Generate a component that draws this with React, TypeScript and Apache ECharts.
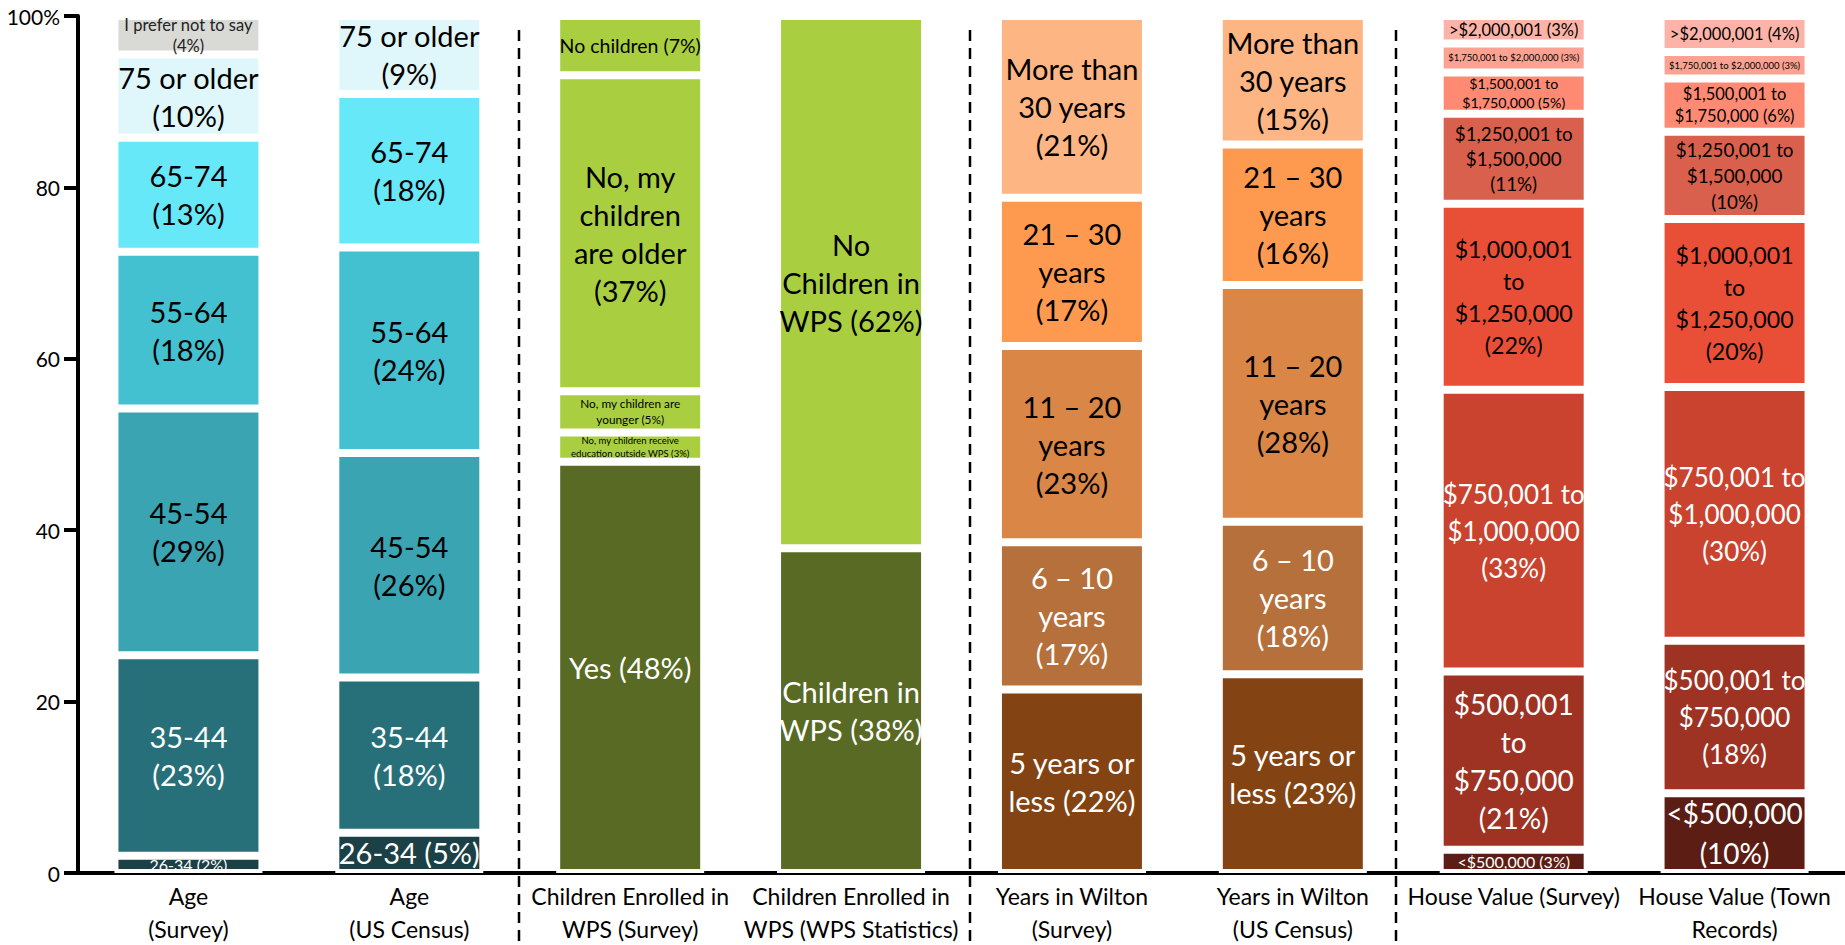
import React, { useEffect, useRef } from "react";
import * as echarts from "echarts";

// ---------- data ----------
const categories = [
  "Age\n(Survey)",
  "Age\n(US Census)",
  "Children Enrolled in\nWPS (Survey)",
  "Children Enrolled in\nWPS (WPS Statistics)",
  "Years in Wilton\n(Survey)",
  "Years in Wilton\n(US Census)",
  "House Value (Survey)",
  "House Value (Town\nRecords)",
];

const yTicks = [0, 20, 40, 60, 80, 100];

// segments listed bottom -> top
const ageSurveyValues = [2.0, 23.4, 28.8, 18.3, 13.3, 9.7, 4.5];
const ageSurveyLabels = [
  "26-34 (2%)",
  "35-44\n(23%)",
  "45-54\n(29%)",
  "55-64\n(18%)",
  "65-74\n(13%)",
  "75 or older\n(10%)",
  "I prefer not to say\n(4%)",
];

const ageCensusValues = [4.7, 18.1, 26.2, 24.0, 17.9, 9.1];
const ageCensusLabels = [
  "26-34 (5%)",
  "35-44\n(18%)",
  "45-54\n(26%)",
  "55-64\n(24%)",
  "65-74\n(18%)",
  "75 or older\n(9%)",
];

const childrenSurveyValues = [48.0, 3.4, 4.8, 36.9, 6.9];
const childrenSurveyLabels = [
  "Yes (48%)",
  "No, my children receive\neducation outside WPS (3%)",
  "No, my children are\nyounger (5%)",
  "No, my\nchildren\nare older\n(37%)",
  "No children (7%)",
];

const childrenStatsValues = [37.9, 62.1];
const childrenStatsLabels = ["Children in\nWPS (38%)", "No\nChildren in\nWPS (62%)"];

const yearsSurveyValues = [21.4, 17.2, 22.9, 17.3, 21.2];
const yearsSurveyLabels = [
  "5 years or\nless (22%)",
  "6 – 10\nyears\n(17%)",
  "11 – 20\nyears\n(23%)",
  "21 – 30\nyears\n(17%)",
  "More than\n30 years\n(21%)",
];

const yearsCensusValues = [23.2, 17.8, 27.6, 16.4, 15.0];
const yearsCensusLabels = [
  "5 years or\nless (23%)",
  "6 – 10\nyears\n(18%)",
  "11 – 20\nyears\n(28%)",
  "21 – 30\nyears\n(16%)",
  "More than\n30 years\n(15%)",
];

const houseSurveyValues = [2.7, 20.8, 32.9, 21.7, 10.5, 4.8, 3.4, 3.2];
const houseSurveyLabels = [
  "<$500,000 (3%)",
  "$500,001\nto\n$750,000\n(21%)",
  "$750,001 to\n$1,000,000\n(33%)",
  "$1,000,001\nto\n$1,250,000\n(22%)",
  "$1,250,001 to\n$1,500,000\n(11%)",
  "$1,500,001 to\n$1,750,000 (5%)",
  "$1,750,001 to $2,000,000 (3%)",
  ">$2,000,001 (3%)",
];

const houseTownValues = [9.3, 17.8, 29.6, 19.6, 10.2, 6.2, 3.1, 4.2];
const houseTownLabels = [
  "<$500,000\n(10%)",
  "$500,001 to\n$750,000\n(18%)",
  "$750,001 to\n$1,000,000\n(30%)",
  "$1,000,001\nto\n$1,250,000\n(20%)",
  "$1,250,001 to\n$1,500,000\n(10%)",
  "$1,500,001 to\n$1,750,000 (6%)",
  "$1,750,001 to $2,000,000 (3%)",
  ">$2,000,001 (4%)",
];

// ---------- styles ----------
const ageColors = ["#1b4045", "#277079", "#3aa4b2", "#43c1d0", "#67e8f9", "#dff7fb", "#d9d9d6"];
const ageTextColors = ["#fff", "#fff", "#000", "#000", "#000", "#000", "#222"];
const greenColors = ["#586a24", "#a9cf40", "#a9cf40", "#a9cf40", "#a9cf40"];
const greenTextColors = ["#fff", "#000", "#000", "#000", "#000"];
const yearColors = ["#844313", "#b5703c", "#d98647", "#fe9a4f", "#feb584"];
const yearTextColors = ["#fff", "#fff", "#000", "#000", "#000"];
const houseColors = ["#5c1d14", "#9e3324", "#c9432e", "#e94f36", "#d9604c", "#fe8a74", "#fca293", "#fdb3a7"];
const houseTextColors = ["#fff", "#fff", "#fff", "#000", "#000", "#000", "#000", "#000"];

const BIG: [number, number] = [29, 38];
const ageSurveyFont = [[16, 16], BIG, BIG, BIG, BIG, BIG, [16.5, 21]];
const ageCensusFont = [BIG, BIG, BIG, BIG, BIG, BIG];
const childrenSurveyFont = [BIG, [9.5, 13], [11.8, 16], BIG, [19.5, 22]];
const childrenStatsFont = [BIG, BIG];
const yearsFont = [BIG, BIG, BIG, BIG, BIG];
const houseSurveyFont = [[16, 18], [28, 38], [26, 37], [23.2, 32], [18.8, 25], [14.2, 19], [9.5, 12], [16.5, 20]];
const houseTownFont = [[28, 40], [26, 37], [26, 37], [23.2, 32], [18.8, 26], [16.5, 22], [9.5, 12], [16.5, 20]];

const bars = [
  { values: ageSurveyValues, labels: ageSurveyLabels, colors: ageColors, text: ageTextColors, font: ageSurveyFont },
  { values: ageCensusValues, labels: ageCensusLabels, colors: ageColors, text: ageTextColors, font: ageCensusFont },
  { values: childrenSurveyValues, labels: childrenSurveyLabels, colors: greenColors, text: greenTextColors, font: childrenSurveyFont },
  { values: childrenStatsValues, labels: childrenStatsLabels, colors: greenColors, text: greenTextColors, font: childrenStatsFont },
  { values: yearsSurveyValues, labels: yearsSurveyLabels, colors: yearColors, text: yearTextColors, font: yearsFont },
  { values: yearsCensusValues, labels: yearsCensusLabels, colors: yearColors, text: yearTextColors, font: yearsFont },
  { values: houseSurveyValues, labels: houseSurveyLabels, colors: houseColors, text: houseTextColors, font: houseSurveyFont },
  { values: houseTownValues, labels: houseTownLabels, colors: houseColors, text: houseTextColors, font: houseTownFont },
];

const FONT = "Lato, 'Open Sans', sans-serif";
const dividerX = [519, 970, 1396];

export default function App() {
  const ref = useRef<HTMLDivElement>(null);

  useEffect(() => {
    if (!ref.current) return;
    const chart = echarts.init(ref.current, null, { renderer: "svg" });
    const layers = Math.max(...bars.map((b) => b.values.length));
    const series: any[] = [];
    for (let k = 0; k < layers; k++) {
      series.push({
        type: "bar",
        stack: "total",
        barWidth: 148,
        z: k === 0 ? 3 : 2,
        itemStyle: { borderColor: "#ffffff", borderWidth: 4 },
        label: {
          show: true,
          position: "inside",
          fontFamily: FONT,
          align: "center",
          formatter: (p: any) => bars[p.dataIndex].labels[k] ?? "",
        },
        data: bars.map((b) =>
          k < b.values.length
            ? {
                value: b.values[k],
                itemStyle: { color: b.colors[k] },
                label: {
                  color: b.text[k],
                  fontSize: b.font[k][0],
                  lineHeight: b.font[k][1],
                },
              }
            : "-"
        ),
      });
    }

    chart.setOption({
      animation: false,
      backgroundColor: "#ffffff",
      textStyle: { fontFamily: FONT },
      grid: { left: 78, right: 0, top: 16, bottom: 72, containLabel: false },
      xAxis: {
        type: "category",
        data: categories,
        axisLine: { show: true, lineStyle: { color: "#000", width: 4 } },
        axisTick: { show: false },
        axisLabel: {
          interval: 0,
          color: "#000",
          fontFamily: FONT,
          fontSize: 23,
          lineHeight: 33,
          margin: 6,
        },
      },
      yAxis: {
        type: "value",
        min: yTicks[0],
        max: yTicks[yTicks.length - 1],
        interval: yTicks[1] - yTicks[0],
        splitLine: { show: false },
        axisLine: { show: true, lineStyle: { color: "#000", width: 4 } },
        axisTick: { show: true, length: 14, lineStyle: { color: "#000", width: 4 } },
        axisLabel: {
          color: "#000",
          fontFamily: FONT,
          fontSize: 21,
          margin: 18,
          formatter: (v: number) => (v === 100 ? "100%" : String(v)),
        },
      },
      graphic: dividerX.map((x) => ({
        type: "line",
        shape: { x1: x, y1: 30, x2: x, y2: 945 },
        style: { stroke: "#000", lineWidth: 2.5, lineDash: [11, 7] },
        z: 10,
      })),
      series,
    });
    return () => chart.dispose();
  }, []);

  return (
    <div
      ref={ref}
      style={{ position: "absolute", left: 0, top: 0, width: 1845, height: 945, background: "#fff" }}
    />
  );
}
